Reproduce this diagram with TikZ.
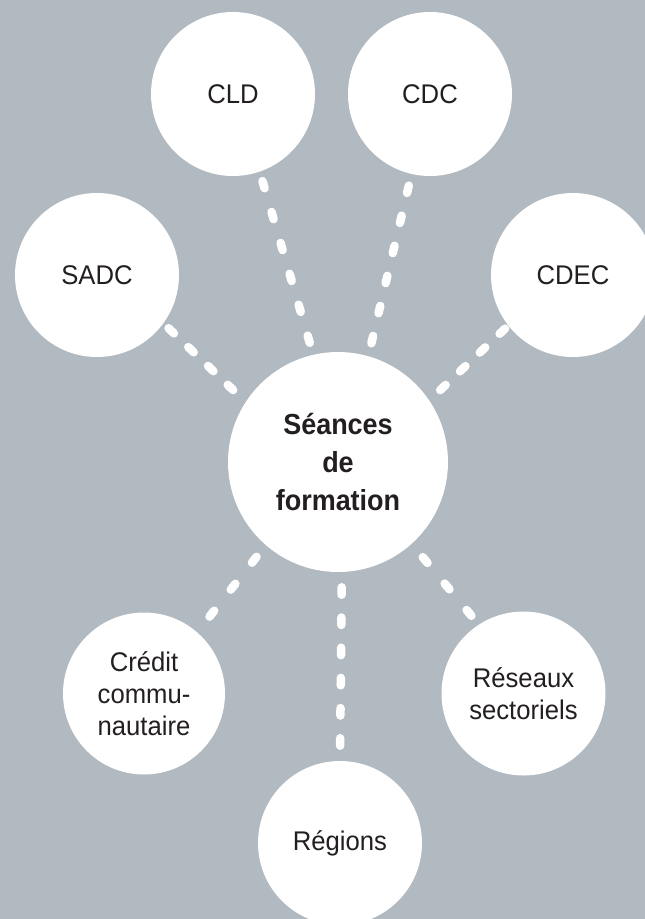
\documentclass[tikz,border=0pt]{standalone}
\usepackage{fontspec}
\setmainfont{Liberation Sans}[FakeStretch=0.95]
\newfontfamily\hubfont{Liberation Sans}[FakeStretch=0.93]
\definecolor{bg}{RGB}{177,185,193}
\definecolor{ink}{RGB}{35,31,32}
\begin{document}
\begin{tikzpicture}[x=1pt,y=-1pt,
  bubble/.style={circle,fill=white,draw=none,inner sep=0pt,outer sep=0pt,
    minimum size=164pt,align=center,text=ink,font=\fontsize{27}{32}\selectfont},
  hub/.style={bubble,minimum size=220pt,font=\hubfont\bfseries\fontsize{29}{38}\selectfont},
  link/.style={draw=white,line width=8.5pt,line cap=round}]
\useasboundingbox (0,0) rectangle (645,919);
\clip (0,0) rectangle (645,919);
\fill[bg] (0,0) rectangle (645,919);

\node[bubble] (CLD) at (233,94) {CLD};
\node[bubble] (CDC) at (430,94) {CDC};
\node[bubble] (SADC) at (97,275) {SADC};
\node[bubble] (CDEC) at (573,275) {CDEC};
\node[hub] (C) at (338,462) {Séances\\de\\formation};
\node[bubble,minimum size=162pt] (CR) at (144,693.5) {Crédit\\commu-\\nautaire};
\node[bubble] (RS) at (523.5,693.5) {Réseaux\\sectoriels};
\node[bubble] (RG) at (340,843) {Régions};

\draw[link,dash pattern=on 7.5pt off 24.7pt,shorten <=9.95pt,shorten >=12.45pt] (CLD.-71.7) -- (C.103);
\draw[link,dash pattern=on 7.5pt off 23.4pt,shorten <=12.05pt,shorten >=13.35pt] (CDC.-103.8) -- (C.74.7);
\draw[link,dash pattern=on 7.5pt off 19.8pt,shorten <=7.25pt,shorten >=17.25pt] (SADC.-36.8) -- (C.147.5);
\draw[link,dash pattern=on 7.5pt off 19.8pt,shorten <=4.55pt,shorten >=14.85pt] (CDEC.218.5) -- (C.34.4);
\draw[link,dash pattern=on 7.5pt off 26.8pt,shorten <=20.05pt,shorten >=14.75pt] (CR.49.45) -- (C.229.4);
\draw[link,dash pattern=on 7.5pt off 26.85pt,shorten <=11.65pt,shorten >=17.25pt] (RS.123.7) -- (C.312.1);
\draw[link,dash pattern=on 7.5pt off 22.7pt,shorten <=15.25pt,shorten >=15.25pt] (RG.90) -- (C.-88.96);
\end{tikzpicture}
\end{document}
